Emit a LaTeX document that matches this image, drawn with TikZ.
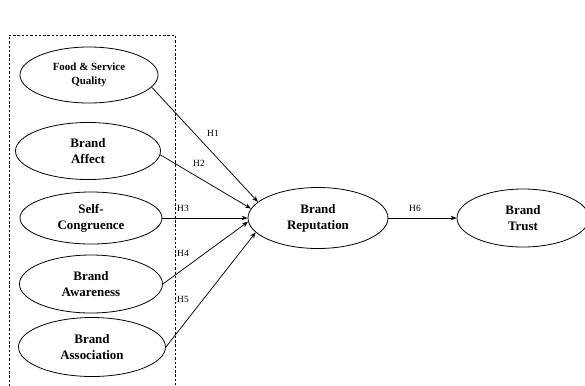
\documentclass[tikz,border=0pt]{standalone}
\usepackage{fontspec}
\setmainfont{Liberation Serif}
\usetikzlibrary{arrows.meta,shapes.geometric}

\tikzset{
  construct/.style={draw, ellipse, line width=0.8pt, inner sep=0pt, align=center,
    font=\fontsize{13}{16}\selectfont\bfseries},
  hyp/.style={-{Stealth[length=6pt,width=4.5pt]}, line width=0.75pt},
  hlabel/.style={font=\fontsize{9.5}{10}\selectfont, inner sep=1pt},
}

\begin{document}
\begin{tikzpicture}[x=1bp, y=-1bp]
	\useasboundingbox (0,0) rectangle (585,385);
	% frame round the antecedents
	\draw[dash pattern=on 2.5pt off 1.8pt, line width=0.6pt] (9,395) -- (9,35) -- (175,35) -- (175,395);
	%
	\node[construct, minimum width=138bp, minimum height=56bp,
	      font=\fontsize{11}{14}\selectfont\bfseries] (food) at (89,75) {Food \& Service\\Quality};
	\node[construct, minimum width=145bp, minimum height=57bp] (affect) at (88,151) {Brand\\Affect};
	\node[construct, minimum width=142bp, minimum height=52bp] (self) at (91,218) {Self-\\Congruence};
	\node[construct, minimum width=143bp, minimum height=58bp] (aware) at (91,284) {Brand\\Awareness};
	\node[construct, minimum width=147bp, minimum height=59bp] (assoc) at (92,347) {Brand\\Association};
	\node[construct, minimum width=140bp, minimum height=61bp] (rep) at (318,218) {Brand\\Reputation};
	\node[construct, minimum width=132bp, minimum height=58bp] (trust) at (523,218) {Brand\\Trust};
	%
	\draw[hyp] (food.-11) -- (rep.165);
	\draw[hyp] (affect.-3) -- (rep.172);
	\draw[hyp] (self.east) -- (rep.west);
	\draw[hyp] (aware.east) -- (rep.183);
	\draw[hyp] (assoc.east) -- (rep.193);
	\draw[hyp] (rep.east) -- (trust.west);
	%
	\node[hlabel] (h1) at (213,133) {H1};
	\node[hlabel] (h2) at (199,163) {H2};
	\node[hlabel] (h3) at (183,208) {H3};
	\node[hlabel] (h4) at (183,253) {H4};
	\node[hlabel] (h5) at (183,299) {H5};
	\node[hlabel] (h6) at (415,208) {H6};
\end{tikzpicture}
\end{document}
